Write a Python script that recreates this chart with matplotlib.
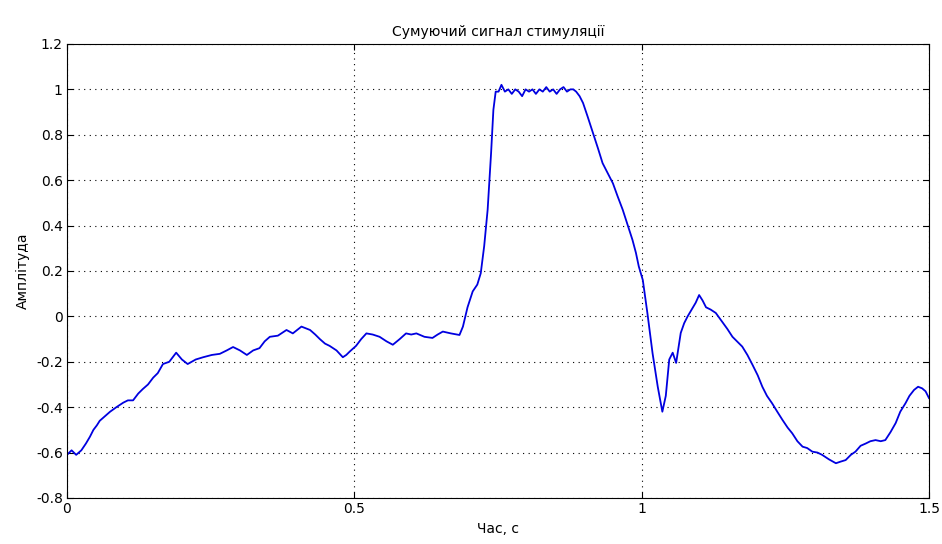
import matplotlib
matplotlib.use("Agg")
import matplotlib.pyplot as plt

plt.rcParams['font.family'] = ['DejaVu Sans']

# значення
chas = [0.000, 0.008, 0.016, 0.025, 0.033, 0.040, 0.046, 0.052, 0.057, 0.066, 0.075,
        0.086, 0.098, 0.106, 0.115, 0.124, 0.132, 0.141, 0.150, 0.158, 0.167, 0.178,
        0.190, 0.200, 0.210, 0.224, 0.237, 0.252, 0.266, 0.278, 0.289, 0.301, 0.313,
        0.324, 0.335, 0.344, 0.353, 0.367, 0.382, 0.393, 0.408, 0.423, 0.432, 0.440,
        0.449, 0.457, 0.469, 0.480, 0.486, 0.492, 0.503, 0.512, 0.521, 0.532, 0.544,
        0.556, 0.567, 0.579, 0.590, 0.599, 0.608, 0.622, 0.636, 0.645, 0.654, 0.668,
        0.683, 0.689, 0.697, 0.706, 0.714, 0.720, 0.726, 0.732, 0.738, 0.742, 0.746,
        0.751, 0.756, 0.762, 0.768, 0.774, 0.780, 0.786, 0.792, 0.798, 0.804, 0.810,
        0.816, 0.822, 0.828, 0.834, 0.840, 0.846, 0.852, 0.858, 0.864, 0.870, 0.876,
        0.881, 0.886, 0.892, 0.898, 0.906, 0.915, 0.924, 0.932, 0.941, 0.950, 0.958,
        0.967, 0.976, 0.984, 0.990, 0.995, 1.002, 1.010, 1.019, 1.028, 1.036, 1.042,
        1.048, 1.054, 1.060, 1.068, 1.074, 1.080, 1.087, 1.094, 1.100, 1.106, 1.112,
        1.120, 1.129, 1.139, 1.149, 1.158, 1.166, 1.175, 1.184, 1.193, 1.202, 1.210,
        1.218, 1.227, 1.236, 1.245, 1.254, 1.262, 1.271, 1.280, 1.288, 1.297, 1.306,
        1.314, 1.326, 1.338, 1.346, 1.355, 1.364, 1.372, 1.381, 1.390, 1.398, 1.407,
        1.416, 1.424, 1.433, 1.442, 1.450, 1.459, 1.466, 1.474, 1.481, 1.488, 1.494,
        1.500]
amplituda = [-0.61, -0.59, -0.61, -0.59, -0.56, -0.53, -0.50, -0.48, -0.46, -0.44, -0.42,
             -0.40, -0.38, -0.37, -0.37, -0.34, -0.32, -0.30, -0.27, -0.25, -0.21, -0.20,
             -0.16, -0.19, -0.21, -0.19, -0.18, -0.17, -0.165, -0.15, -0.135, -0.15, -0.17,
             -0.15, -0.14, -0.11, -0.09, -0.085, -0.06, -0.075, -0.045, -0.06, -0.08, -0.10,
             -0.12, -0.13, -0.15, -0.18, -0.17, -0.155, -0.13, -0.10, -0.075, -0.08, -0.09,
             -0.11, -0.125, -0.10, -0.075, -0.08, -0.075, -0.09, -0.095, -0.08, -0.067, -0.075,
             -0.082, -0.045, 0.04, 0.11, 0.14, 0.19, 0.31, 0.47, 0.72, 0.91, 0.99,
             0.99, 1.02, 0.99, 1.00, 0.98, 1.00, 0.99, 0.97, 1.00, 0.99, 1.00,
             0.98, 1.00, 0.99, 1.01, 0.99, 1.00, 0.98, 1.00, 1.01, 0.99, 1.00,
             1.00, 0.99, 0.97, 0.94, 0.88, 0.81, 0.74, 0.675, 0.63, 0.586, 0.53,
             0.47, 0.40, 0.337, 0.28, 0.22, 0.16, 0.014, -0.163, -0.31, -0.42, -0.35,
             -0.19, -0.16, -0.205, -0.073, -0.03, 0.0, 0.03, 0.06, 0.094, 0.07, 0.04,
             0.03, 0.015, -0.02, -0.055, -0.09, -0.11, -0.133, -0.17, -0.214, -0.26, -0.31,
             -0.35, -0.383, -0.42, -0.456, -0.49, -0.515, -0.55, -0.574, -0.58, -0.596, -0.60,
             -0.61, -0.63, -0.647, -0.64, -0.633, -0.61, -0.596, -0.57, -0.56, -0.55, -0.545,
             -0.55, -0.545, -0.51, -0.47, -0.42, -0.383, -0.35, -0.324, -0.31, -0.317, -0.33,
             -0.36]

fig = plt.figure(figsize=(9.42, 5.44), dpi=100)
ax = fig.add_axes([0.0711, 0.0846, 0.9151, 0.8346])

ax.plot(chas, amplituda, color='#0000e0', linewidth=1.3)

ax.set_xlim(0, 1.5)
ax.set_ylim(-0.8, 1.2)
ax.set_xticks([0, 0.5, 1, 1.5])
ax.set_xticklabels(['0', '0.5', '1', '1.5'])
ax.set_yticks([-0.8, -0.6, -0.4, -0.2, 0, 0.2, 0.4, 0.6, 0.8, 1, 1.2])
ax.set_yticklabels(['-0.8', '-0.6', '-0.4', '-0.2', '0', '0.2', '0.4', '0.6', '0.8', '1', '1.2'])
ax.tick_params(direction='in', top=True, right=True, labelsize=10, length=4, pad=3)
ax.grid(True, color='black', linestyle=(0, (1, 4)), linewidth=0.8)
for s in ax.spines.values():
    s.set_linewidth(0.8)

ax.set_title("Сумуючий сигнал стимуляції", fontsize=10)
ax.set_xlabel("Час, с", fontsize=10)
ax.set_ylabel("Амплітуда", fontsize=10)

fig.savefig("out.png", dpi=100)
